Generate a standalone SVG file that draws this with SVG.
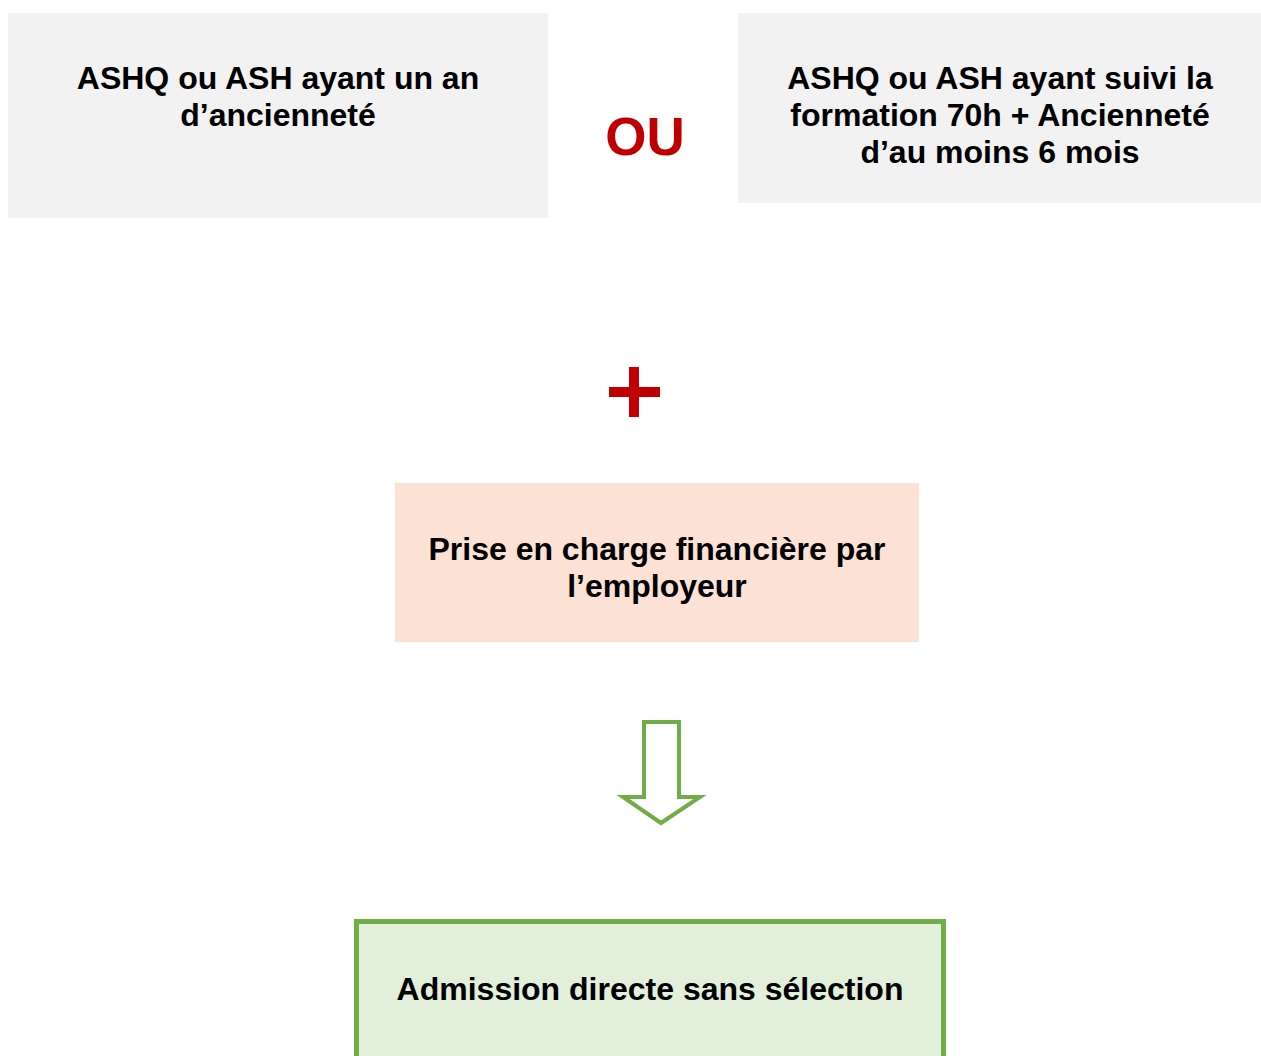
<svg xmlns="http://www.w3.org/2000/svg" width="1261" height="1056" viewBox="0 0 1261 1056">
<style>
.t{font-family:"Liberation Sans",Arial,sans-serif;font-weight:bold;font-size:32px;fill:#000;text-anchor:middle}
.grey{fill:#F2F2F2}
.red{fill:#C00000}
</style>
<rect width="1261" height="1056" fill="#fff"/>
<g id="node-ashq-an">
<rect class="grey" x="8" y="13" width="540" height="205"/>
<text class="t" x="278" y="89">ASHQ ou ASH ayant un an</text>
<text class="t" x="278" y="126">d’ancienneté</text>
</g>
<g id="node-ou">
<text x="645" y="155" style="font-family:'Liberation Sans',Arial,sans-serif;font-weight:bold;font-size:53px;text-anchor:middle" class="red">OU</text>
</g>
<g id="node-ashq-70h">
<rect class="grey" x="738" y="13" width="523" height="190"/>
<text class="t" x="1000" y="89">ASHQ ou ASH ayant suivi la</text>
<text class="t" x="1000" y="126">formation 70h + Ancienneté</text>
<text class="t" x="1000" y="163">d’au moins 6 mois</text>
</g>
<g id="node-plus">
<rect class="red" x="629" y="367" width="10" height="50"/>
<rect class="red" x="609" y="387" width="51" height="10"/>
</g>
<g id="node-prise">
<rect x="395" y="483" width="524" height="159" fill="#FBE2D5"/>
<text class="t" x="657" y="560">Prise en charge financière par</text>
<text class="t" x="657" y="597">l’employeur</text>
</g>
<g id="connectors">
<path d="M644,722 H679 V797 H700 L661,823 L623,797 H644 Z" fill="#fff" stroke="#70AD47" stroke-width="4"/>
</g>
<g id="node-admission">
<rect x="356.5" y="921.5" width="587" height="140" fill="#E2EFDA" stroke="#70AD47" stroke-width="5"/>
<text class="t" x="650" y="1000">Admission directe sans sélection</text>
</g>
</svg>
